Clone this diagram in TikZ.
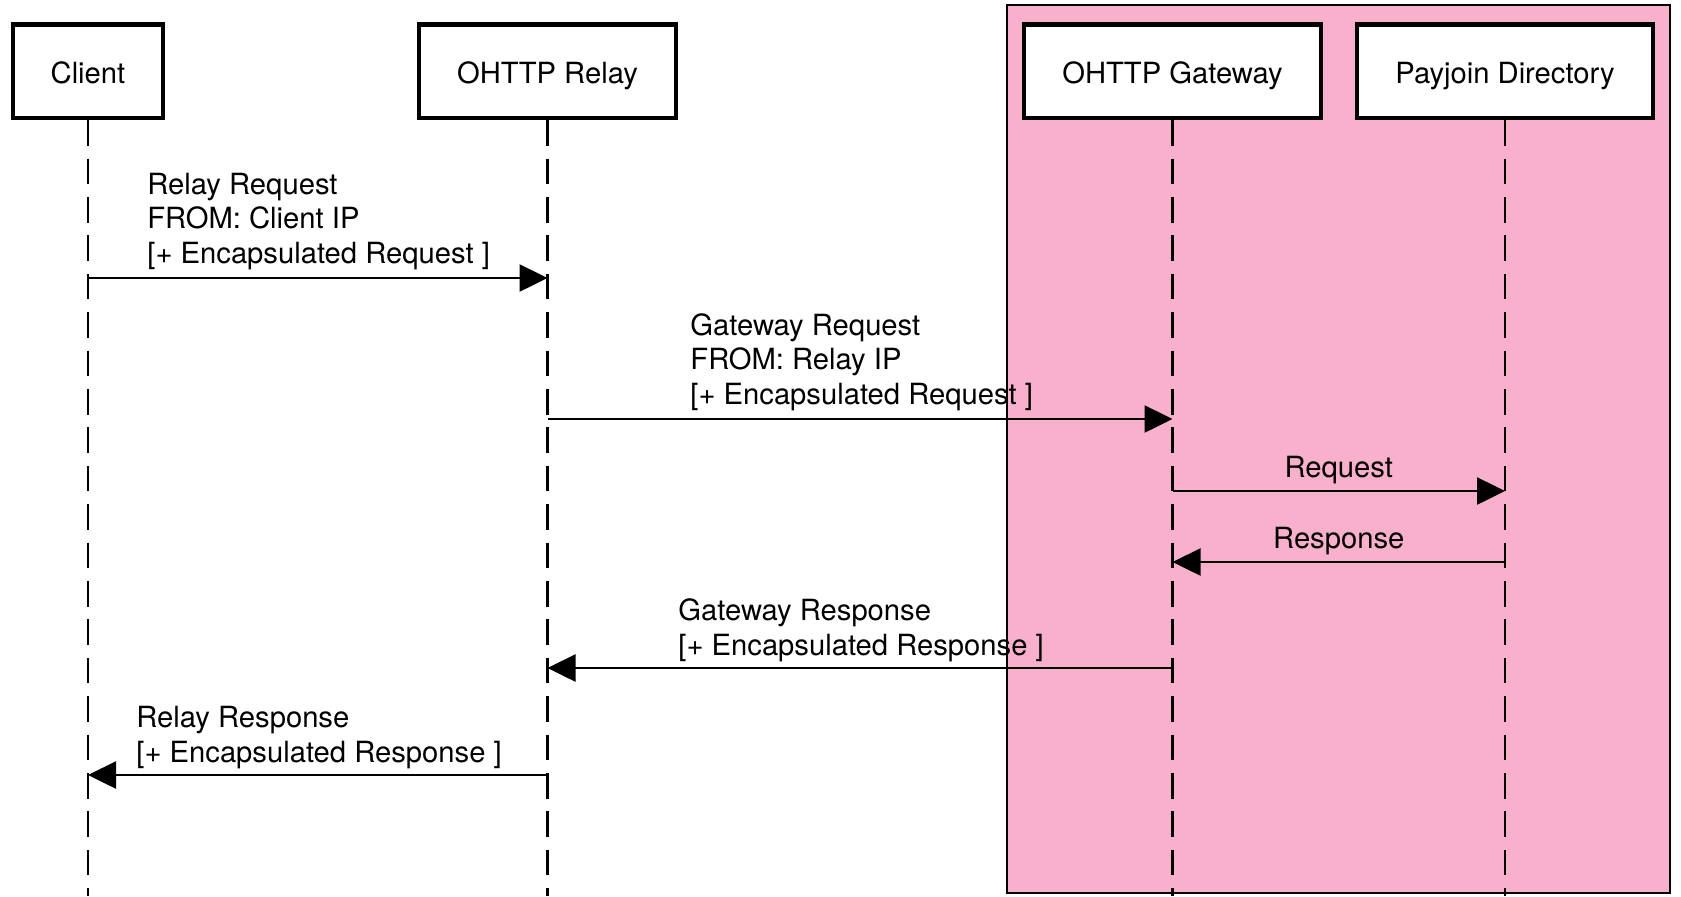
\documentclass[tikz,border=0pt]{standalone}
\usepackage{fontspec}
\setmainfont{TeX Gyre Heros}
\usetikzlibrary{arrows.meta}
\definecolor{pinkbg}{RGB}{249,176,204}
\begin{document}
\begin{tikzpicture}[x=0.5pt,y=-0.5pt,
  every node/.style={font=\fontsize{14.6pt}{17.25pt}\selectfont},
  actor/.style={draw, line width=2.2pt, fill=white, minimum height=46.7pt, inner sep=0pt, text height=1.4em, text depth=0.2em},
  lifeline/.style={line width=1.25pt, dash pattern=on 12.8pt off 6.4pt},
  msg/.style={line width=1.25pt, -{Triangle[length=14pt,width=13.5pt]}},
  lbl/.style={anchor=base west, align=left, inner sep=0pt}]
\useasboundingbox (0,0) rectangle (1681,896);
\fill[white] (0,0) rectangle (1681,896);
\draw[fill=pinkbg, line width=1.1pt] (1007,5) rectangle (1670,893);
\node[actor, minimum width=75pt] (client) at (88,71.3) {Client};
\node[actor, minimum width=128.5pt] (relay) at (547.5,71.3) {OHTTP Relay};
\node[actor, minimum width=148.5pt] (gateway) at (1172.5,71.3) {OHTTP Gateway};
\node[actor, minimum width=148pt] (directory) at (1505,71.3) {Payjoin Directory};
\coordinate (bottom) at (0,896);
\foreach \a in {client,relay,gateway,directory}
  \draw[lifeline] (\a.south) -- (\a |- bottom);
\coordinate (m1) at (0,278);
\coordinate (m2) at (0,419);
\coordinate (m3) at (0,491);
\coordinate (m4) at (0,562);
\coordinate (m5) at (0,668);
\coordinate (m6) at (0,775);
\draw[msg] (client |- m1) -- (relay |- m1);
\draw[msg] (relay |- m2) -- (gateway |- m2);
\draw[msg] (gateway |- m3) -- node[anchor=base, yshift=7pt, inner sep=0pt] (l3) {Request} (directory |- m3);
\draw[msg] (directory |- m4) -- node[anchor=base, yshift=7pt, inner sep=0pt] (l4) {Response} (gateway |- m4);
\draw[msg] (gateway |- m5) -- (relay |- m5);
\draw[msg] (relay |- m6) -- (client |- m6);
\node[lbl] (l1) at (147,263) {Relay Request\\FROM: Client IP\\{[}+ Encapsulated Request {]}};
\node[lbl] (l2) at (690,404) {Gateway Request\\FROM: Relay IP\\{[}+ Encapsulated Request {]}};
\node[lbl] (l5) at (678,655) {Gateway Response\\{[}+ Encapsulated Response {]}};
\node[lbl] (l6) at (136,762) {Relay Response\\{[}+ Encapsulated Response {]}};
\end{tikzpicture}
\end{document}
